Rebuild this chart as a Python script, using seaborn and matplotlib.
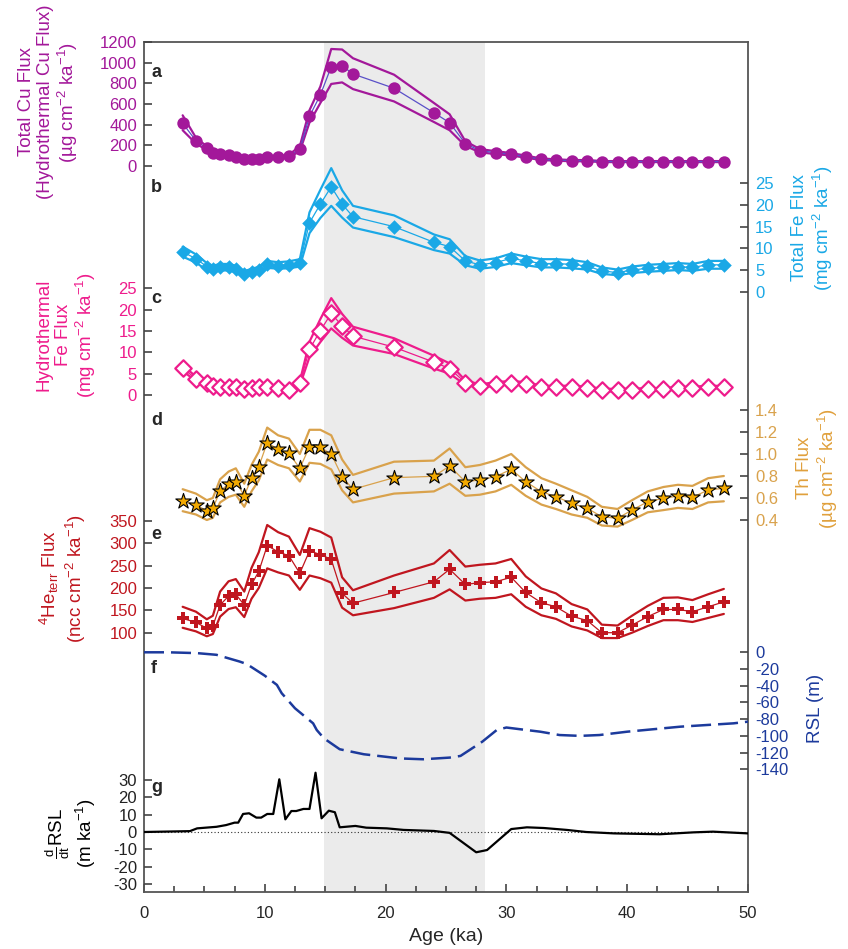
import matplotlib
matplotlib.use("Agg")
import matplotlib.pyplot as plt
import matplotlib.transforms as mtransforms
from matplotlib.ticker import MultipleLocator
import seaborn as sns

# ---- data ----
age = [3.2, 4.3, 5.2, 5.7, 6.3, 7.0, 7.6, 8.3, 8.9, 9.5, 10.2, 11.1, 12.0, 12.9, 13.7, 14.6,
       15.5, 16.4, 17.3, 20.7, 24.0, 25.3, 26.6, 27.8, 29.1, 30.4, 31.6, 32.9, 34.1, 35.4,
       36.7, 37.9, 39.2, 40.4, 41.7, 43.0, 44.2, 45.4, 46.7, 48.0]

cu = [412, 243, 169, 127, 111, 101, 88, 62, 62, 68, 85, 82, 94, 159, 480, 688, 963, 972, 892, 753,
      515, 418, 215, 146, 127, 111, 88, 62, 55, 49, 49, 40, 40, 40, 40, 40, 40, 40, 40, 40]
cu_hi = [490, 272, 188, 142, 124, 113, 99, 71, 71, 77, 95, 92, 106, 190, 540, 770, 1135, 1130, 1045, 885,
         610, 500, 238, 162, 141, 123, 98, 70, 62, 55, 55, 45, 45, 45, 45, 45, 45, 45, 45, 45]
cu_lo = [345, 215, 152, 114, 100, 90, 78, 54, 54, 60, 76, 73, 83, 140, 420, 610, 795, 810, 745, 625,
         425, 345, 193, 130, 113, 99, 78, 55, 49, 43, 43, 35, 35, 35, 35, 35, 35, 35, 35, 35]

fe = [9.2, 7.6, 5.8, 5.2, 5.6, 5.6, 5.2, 4.0, 4.6, 5.0, 6.3, 6.0, 6.2, 6.6, 15.9, 20.2, 24.2, 20.2, 17.3, 15.0,
      11.4, 10.4, 7.1, 6.2, 6.7, 7.7, 7.1, 6.5, 6.5, 6.3, 5.9, 4.8, 4.4, 5.0, 5.4, 5.6, 5.8, 5.6, 6.2, 6.2]
fe_hi = [10.4, 8.6, 6.6, 6.0, 6.4, 6.4, 6.0, 4.7, 5.3, 5.7, 7.1, 6.8, 7.0, 7.5, 18.3, 23.5, 28.5, 23.4, 19.8, 17.6,
         13.2, 12.1, 8.2, 7.2, 7.7, 8.8, 8.1, 7.5, 7.5, 7.3, 6.8, 5.6, 5.1, 5.8, 6.2, 6.4, 6.6, 6.4, 7.1, 7.1]
fe_lo = [8.1, 6.7, 5.0, 4.5, 4.9, 4.9, 4.5, 3.4, 4.0, 4.4, 5.5, 5.3, 5.4, 5.8, 13.5, 17.0, 19.8, 17.1, 14.8, 12.6,
         9.6, 8.8, 6.1, 5.3, 5.7, 6.6, 6.1, 5.6, 5.6, 5.4, 5.1, 4.1, 3.8, 4.3, 4.6, 4.8, 5.0, 4.8, 5.3, 5.3]

hfe = [6.3, 3.8, 2.7, 2.1, 1.9, 1.8, 1.8, 1.4, 1.6, 1.8, 1.8, 1.6, 1.2, 2.7, 10.7, 15.1, 19.1, 16.2, 13.8, 11.2,
       7.7, 6.2, 2.9, 2.1, 2.6, 2.9, 2.6, 1.9, 1.8, 1.9, 1.6, 1.2, 1.1, 1.2, 1.3, 1.3, 1.6, 1.6, 1.9, 1.8]
hfe_hi = [7.0, 4.3, 3.1, 2.4, 2.2, 2.1, 2.1, 1.7, 1.9, 2.1, 2.1, 1.9, 1.5, 3.2, 12.5, 17.8, 22.7, 19.0, 16.0, 13.3,
          9.2, 7.4, 3.4, 2.5, 3.0, 3.3, 3.0, 2.2, 2.1, 2.2, 1.9, 1.5, 1.4, 1.5, 1.6, 1.6, 1.9, 1.9, 2.2, 2.1]
hfe_lo = [5.6, 3.3, 2.3, 1.8, 1.6, 1.5, 1.5, 1.1, 1.3, 1.5, 1.5, 1.3, 0.9, 2.2, 8.9, 12.4, 15.6, 13.4, 11.6, 9.6,
          6.2, 5.0, 2.4, 1.7, 2.2, 2.5, 2.2, 1.6, 1.5, 1.6, 1.3, 0.9, 0.8, 0.9, 1.0, 1.0, 1.3, 1.3, 1.6, 1.5]

th = [0.575, 0.536, 0.485, 0.506, 0.664, 0.727, 0.748, 0.621, 0.779, 0.885, 1.103, 1.043, 1.006, 0.870,
      1.066, 1.060, 1.000, 0.794, 0.679, 0.785, 0.797, 0.891, 0.748, 0.764, 0.794, 0.861, 0.748, 0.657,
      0.612, 0.552, 0.506, 0.430, 0.415, 0.491, 0.566, 0.597, 0.618, 0.606, 0.673, 0.688]
th_hi = [0.68, 0.64, 0.58, 0.60, 0.77, 0.84, 0.87, 0.73, 0.90, 1.02, 1.24, 1.17, 1.14, 1.00, 1.22, 1.22,
         1.17, 0.95, 0.81, 0.93, 0.94, 1.05, 0.88, 0.90, 0.94, 1.00, 0.88, 0.78, 0.73, 0.67, 0.61, 0.52,
         0.50, 0.58, 0.66, 0.70, 0.72, 0.71, 0.78, 0.80]
th_lo = [0.48, 0.45, 0.40, 0.42, 0.56, 0.61, 0.63, 0.52, 0.66, 0.76, 0.95, 0.90, 0.87, 0.75, 0.92, 0.91,
         0.86, 0.67, 0.56, 0.64, 0.66, 0.73, 0.62, 0.63, 0.66, 0.72, 0.62, 0.54, 0.50, 0.45, 0.42, 0.35,
         0.34, 0.40, 0.47, 0.49, 0.51, 0.50, 0.56, 0.57]

he = [132, 123, 110, 115, 162, 182, 186, 162, 208, 237, 295, 281, 272, 233, 283, 275, 264, 188, 166, 190,
      214, 242, 208, 212, 214, 224, 190, 167, 158, 137, 127, 100, 100, 117, 136, 152, 152, 147, 158, 169]
he_hi = [158, 147, 130, 138, 192, 215, 220, 192, 245, 280, 341, 325, 315, 274, 334, 326, 313, 224, 195, 228,
         255, 285, 248, 252, 255, 265, 226, 199, 188, 164, 152, 118, 116, 138, 160, 178, 179, 173, 186, 198]
he_lo = [111, 103, 92, 97, 136, 153, 157, 135, 176, 200, 244, 235, 228, 196, 228, 222, 212, 156, 139, 155,
         178, 197, 172, 176, 178, 186, 158, 139, 131, 114, 105, 88, 88, 100, 115, 128, 128, 124, 133, 142]

rsl_age = [0, 2, 4.4, 6.0, 7.9, 8.5, 10.0, 11.0, 11.4, 12.5, 14.0, 14.3, 14.9, 16.2, 18.2, 21.2, 23.1,
           25.3, 26.2, 28.0, 29.2, 30.0, 31.1, 32.8, 34.4, 36.1, 37.7, 40.0, 42.2, 44.4, 46.6, 48.8, 50]
rsl = [0, 0, -1, -3, -11, -14, -28, -39, -49, -67, -85, -93, -103, -116, -122, -127, -128,
       -126, -124, -107, -93, -90, -92, -95, -99, -100, -99, -95, -92, -89, -87, -85, -83]

drsl_age = [0, 3.8, 4.4, 6.0, 6.8, 7.5, 7.8, 8.2, 8.7, 9.3, 9.7, 10.2, 10.7, 11.2, 11.7, 12.2, 12.6,
            13.2, 13.7, 14.2, 14.7, 15.3, 15.8, 16.2, 17.5, 18.4, 20.1, 21.5, 24.0, 25.3, 27.5, 28.4,
            30.4, 31.7, 33.1, 35.0, 36.6, 38.9, 42.7, 45.5, 47.1, 50]
drsl = [0, 0.5, 2.1, 3.0, 4.0, 5.4, 5.4, 10.4, 10.8, 8.3, 8.3, 10.4, 10.4, 30.4, 7.3, 12.1, 12.1,
        13.3, 13.3, 34.2, 7.9, 12.3, 11.4, 2.7, 3.5, 2.5, 2.1, 1.2, 0.6, -0.5, -11.7, -10.4,
        1.7, 2.7, 2.3, 1.2, 0.0, -0.8, -1.3, -0.2, 0.2, -0.8]

shade = (14.9, 28.25)

# ---- style ----
sns.set_style("ticks")
plt.rcParams["font.family"] = ["Liberation Sans", "DejaVu Sans"]
plt.rcParams["mathtext.default"] = "regular"
plt.rcParams["axes.unicode_minus"] = False

W, H = 848, 949
FL, FR, FT, FB = 144, 748, 42, 892   # frame in pixels
fig = plt.figure(figsize=(W / 100, H / 100), dpi=100)
ax = fig.add_axes([FL / W, 1 - FB / H, (FR - FL) / W, (FB - FT) / H])
ax.axvspan(*shade, color="#ebebeb", lw=0, zorder=0)
ax.set_xlim(0, 50)
ax.set_yticks([])
ax.set_xticks(range(0, 51, 10))
ax.xaxis.set_minor_locator(MultipleLocator(2.5))
ax.tick_params(axis="x", which="major", direction="in", length=6, width=1.2, color="#444444",
               labelsize=12, pad=10)
ax.tick_params(axis="x", which="minor", direction="in", length=4, width=1.2, color="#444444")
for s in ax.spines.values():
    s.set_visible(True)
    s.set_color("#555555")
    s.set_linewidth(1.3)
ax.set_xlabel("Age (ka)", fontsize=14, labelpad=5)

TICK = "#444444"


def panel(side, v0, p0, v1, p1, ticks, color, fmt=None):
    # twin y axis whose scale puts v0 at pixel row p0 and v1 at p1
    tw = ax.twinx()
    for s in tw.spines.values():
        s.set_visible(False)
    px = (p0 - p1) / (v1 - v0)
    tw.set_ylim(v0 - (FB - p0) / px, v0 + (p0 - FT) / px)
    if side == "left":
        tw.yaxis.tick_left()
    tw.set_yticks(ticks)
    if fmt:
        tw.set_yticklabels([fmt.format(t) for t in ticks])
    tw.tick_params(axis="y", direction="in", length=6, width=1.2, color=TICK,
                   labelcolor=color, labelsize=12, pad=5)
    return tw


def proxy(tw, y, lo, hi, band_c, line_c, **mk):
    for b in (lo, hi):
        sns.lineplot(x=age, y=b, ax=tw, color=band_c, lw=1.6, estimator=None, sort=False)
    sns.lineplot(x=age, y=y, ax=tw, color=line_c, lw=0.9, estimator=None, sort=False)
    sns.scatterplot(x=age, y=y, ax=tw, zorder=4, **mk)


PURPLE, BLUE, PINK = "#a3189a", "#1aa8e6", "#ee1c8c"
TAN, ORANGE, RED, NAVY = "#d9a24c", "#f2a900", "#c0161f", "#1c3a9c"

ta = panel("left", 0, 165.7, 1200, 42.3, range(0, 1201, 200), PURPLE)
proxy(ta, cu, cu_lo, cu_hi, PURPLE, "#5a50c8", marker="o", s=80, color=PURPLE, linewidth=0)

tb = panel("right", 0, 291.7, 25, 183.3, range(0, 26, 5), BLUE)
proxy(tb, fe, fe_lo, fe_hi, BLUE, BLUE, marker="D", s=55, color=BLUE, linewidth=0)

tc = panel("left", 0, 395, 25, 288.3, range(0, 26, 5), PINK)
proxy(tc, hfe, hfe_lo, hfe_hi, PINK, PINK, marker="D", s=70, color="white",
      edgecolor=PINK, linewidth=1.6)

td = panel("right", 0.4, 520, 1.4, 410, [0.4, 0.6, 0.8, 1.0, 1.2, 1.4], TAN, fmt="{:.1f}")
proxy(td, th, th_lo, th_hi, TAN, TAN, marker="*", s=135, color=ORANGE,
      edgecolor="black", linewidth=0.8)

te = panel("left", 100, 632.7, 350, 521, range(100, 351, 50), RED)
proxy(te, he, he_lo, he_hi, RED, RED, marker="P", s=75, color=RED, linewidth=0)

tf = panel("right", 0, 652.3, -140, 769.3, range(-140, 1, 20), NAVY)
sns.lineplot(x=rsl_age, y=rsl, ax=tf, color=NAVY, lw=1.8, estimator=None, sort=False,
             linestyle=(0, (8, 2.8)))

tg = panel("left", -30, 884, 30, 780, range(-30, 31, 10), "#222222")
tg.axhline(0, color="#333333", lw=0.8, ls=(0, (1, 2)))
sns.lineplot(x=drsl_age, y=drsl, ax=tg, color="black", lw=1.6, estimator=None, sort=False)

ax.set_xlim(0, 50)

# panel letters
trans = mtransforms.blended_transform_factory(ax.transData, ax.transAxes)
for letter, fy in zip("abcdefg", [0.964, 0.829, 0.698, 0.5545, 0.421, 0.2635, 0.1224]):
    ax.text(0.6, fy, letter, transform=trans, fontsize=13, fontweight="bold",
            ha="left", va="center", zorder=10)

# axis titles
labels = [
    (49, 102, "Total Cu Flux\n(Hydrothermal Cu Flux)\n(µg cm$^{-2}$ ka$^{-1}$)", PURPLE),
    (813, 228, "Total Fe Flux\n(mg cm$^{-2}$ ka$^{-1}$)", BLUE),
    (67, 335, "Hydrothermal\nFe Flux\n(mg cm$^{-2}$ ka$^{-1}$)", PINK),
    (818, 468, "Th Flux\n(µg cm$^{-2}$ ka$^{-1}$)", "#e0a03c"),
    (63, 578, "$^{4}$He$_{terr}$ Flux\n(ncc cm$^{-2}$ ka$^{-1}$)", RED),
    (815, 708, "RSL (m)", NAVY),
    (71, 833, r"$\frac{d}{dt}$RSL" + "\n(m ka$^{-1}$)", "black"),
]
for x, y, txt, c in labels:
    fig.text(x / W, 1 - y / H, txt, rotation=90, ha="center", va="center",
             multialignment="center", fontsize=13.5, color=c, linespacing=1.15)

fig.savefig("out.png", dpi=100)
